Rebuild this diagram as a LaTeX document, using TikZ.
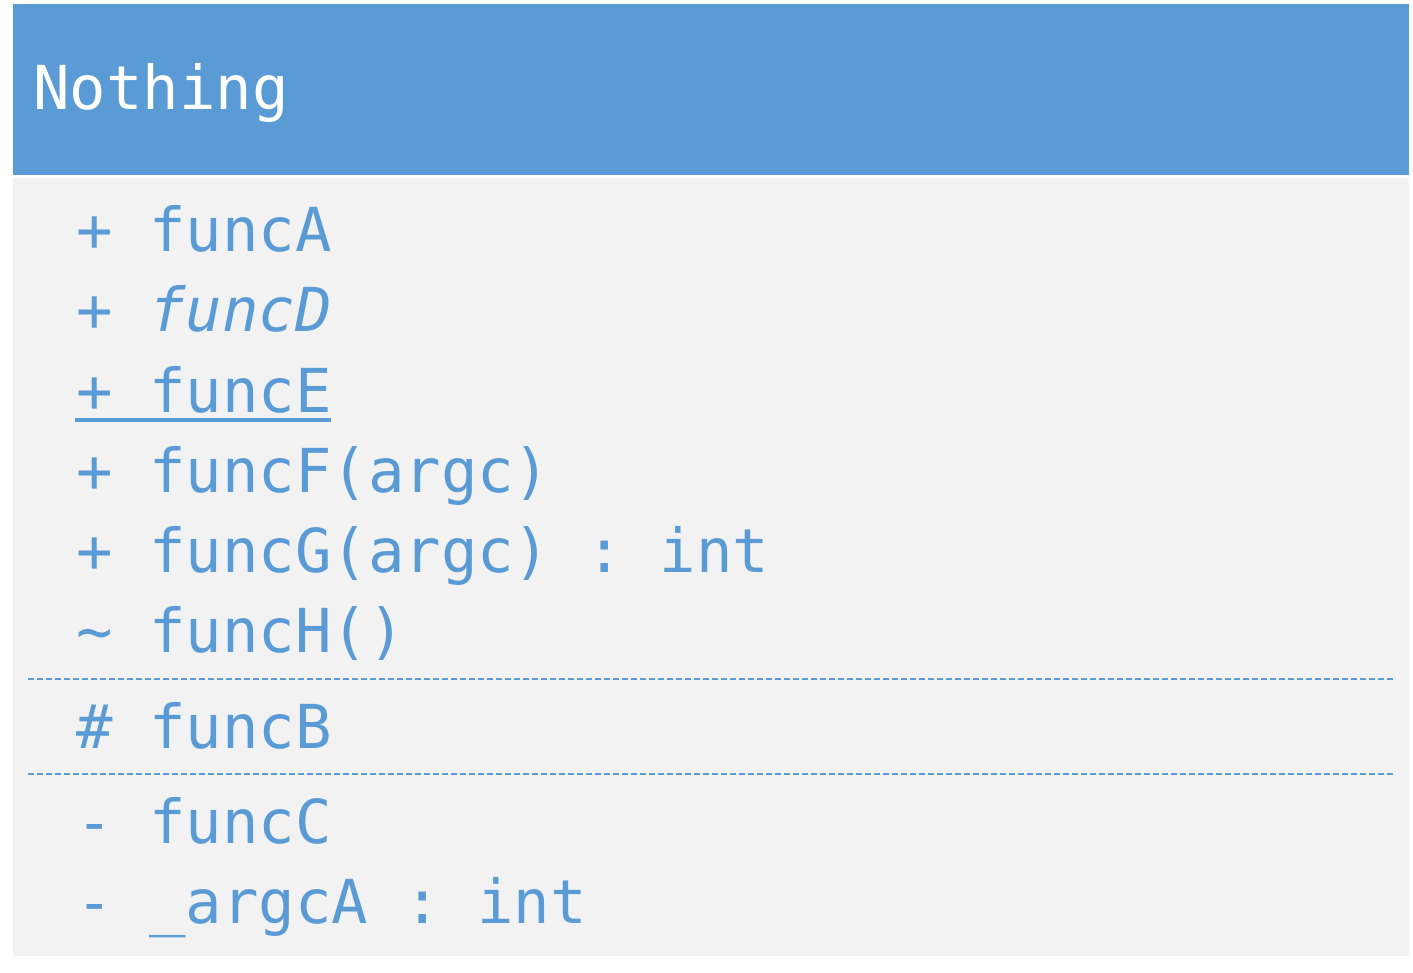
\documentclass[tikz,border=0pt]{standalone}
\usepackage{fontspec}
\setmonofont{DejaVu Sans Mono}
\definecolor{umlblue}{HTML}{5B9BD5}
\definecolor{umlbody}{HTML}{F2F2F2}
\begin{document}
\begin{tikzpicture}[x=1pt,y=-1pt,
  panel/.style={inner sep=0pt, anchor=north west, minimum width=1396pt},
  member/.style={anchor=base west, inner sep=0pt, text=umlblue,
    font=\fontsize{60.6}{60.6}\selectfont\ttfamily},
  title/.style={member, text=white},
  separator/.style={draw=umlblue, line width=2.4pt, dash pattern=on 6pt off 3pt}]
\useasboundingbox (0,0) rectangle (1413,973);
\fill[white] (0,0) rectangle (1413,973);
% class header and body
\node[panel, fill=umlblue, minimum height=171pt] (header) at (13,4) {};
\node[panel, fill=umlbody, minimum height=778pt] (body) at (13,178) {};
\node[title] (name) at (33,110) {Nothing};
% public and package members
\node[member] (fA) at (76,252) {+ funcA};
\node[member] (fD) at (76,332) {\itshape + funcD};
\node[member] (fE) at (76,412) {+ funcE};
\draw[umlblue, line width=4pt] (75,420) -- (331,420);
\node[member] (fF) at (76,492) {+ funcF(argc)};
\node[member] (fG) at (76,572) {+ funcG(argc) : int};
\node[member] (fH) at (76,652) {\textasciitilde{} funcH()};
\draw[separator] (28,679) -- (1394,679);
% protected members
\node[member] (fB) at (76,748) {\# funcB};
\draw[separator] (28,774) -- (1394,774);
% private members
\node[member] (fC) at (76,843) {- funcC};
\node[member] (aA) at (76,923) {- \_argcA : int};
\end{tikzpicture}
\end{document}
